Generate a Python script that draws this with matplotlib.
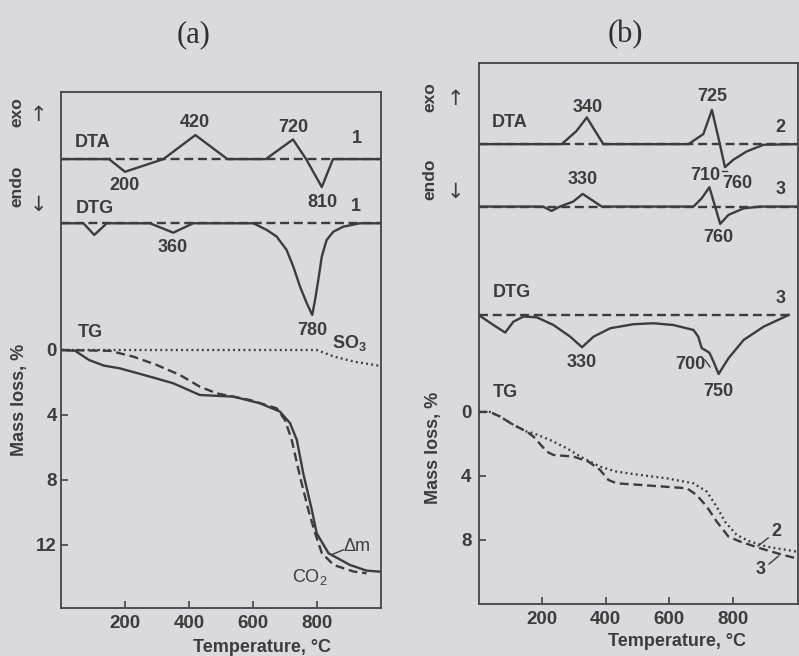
import matplotlib
matplotlib.use("Agg")
import matplotlib.pyplot as plt
import numpy as np

W, H = 799, 656
BG = '#dadade'
INK = '#3c3c3c'
FAM = ['Liberation Sans', 'DejaVu Sans']
plt.rcParams['font.family'] = FAM
plt.rcParams['mathtext.fontset'] = 'custom'
plt.rcParams['mathtext.rm'] = 'Liberation Sans'
plt.rcParams['mathtext.bf'] = 'Liberation Sans:bold'
plt.rcParams['mathtext.default'] = 'rm'

# ---------------- Panel (a) data ----------------
# DTA curve 1 (deflection, exo positive)
a_dta_T = [0, 150, 200, 320, 420, 520, 640, 725, 766, 815, 850, 1000]
a_dta_v = [0, 0, -0.78, 0, 1.48, 0, 0, 1.21, 0, -1.72, 0, 0]
# DTG curve 1
a_dtg_T = [0, 70, 104, 143, 278, 351, 413, 601, 643, 674, 705, 726, 747, 768, 785,
           794, 804, 815, 830, 851, 882, 934, 1000]
a_dtg_v = [0, 0, -0.72, 0, 0, -0.58, 0, 0, -0.41, -0.82, -1.64, -2.67, -3.90, -4.92, -5.64,
           -4.72, -3.49, -2.05, -1.03, -0.52, -0.21, 0, 0]
# TG: total mass loss (solid)
a_tg_T = [2, 44, 88, 134, 184, 278, 351, 434, 539, 622, 684, 716, 737, 757, 784, 799,
          836, 903, 955, 994]
a_tg_m = [0, 0.05, 0.62, 0.96, 1.13, 1.64, 2.05, 2.77, 2.87, 3.28, 3.79, 4.51, 5.54,
          7.59, 9.85, 11.28, 12.51, 13.23, 13.58, 13.64]
# TG: CO2 (dashed)
a_co2_T = [2, 153, 226, 299, 372, 434, 487, 591, 674, 700, 721, 747, 773, 794, 815,
           852, 915, 955]
a_co2_m = [0, 0.05, 0.41, 0.92, 1.54, 2.26, 2.67, 3.08, 3.59, 4.31, 5.54, 7.8, 9.85,
           11.27, 12.5, 13.23, 13.64, 13.74]
# TG: SO3 (dotted)
a_so3_T = [2, 799, 854, 917, 994]
a_so3_m = [0, 0, 0.41, 0.72, 0.97]

# ---------------- Panel (b) data ----------------
b_dta2_T = [0, 262, 309, 341, 367, 393, 661, 708, 735, 760, 776, 802, 844, 897, 1005]
b_dta2_v = [0, 0, 0.83, 1.67, 0.83, 0, 0, 0.63, 2.14, 0, -1.44, -0.98, -0.46, -0.04, 0]
b_dta3_T = [0, 203, 230, 256, 298, 328, 388, 677, 703, 727, 745, 761, 787, 835, 887, 1005]
b_dta3_v = [0, 0, -0.27, 0, 0.31, 0.79, 0, 0, 0.52, 1.21, 0, -1.08, -0.52, -0.11, 0, 0]
b_dtg3_T = [0, 47, 84, 110, 142, 184, 236, 289, 326, 362, 415, 488, 551, 614, 677, 692,
            703, 713, 727, 740, 756, 787, 835, 898, 977]
b_dtg3_v = [0, -0.63, -1.1, -0.42, -0.1, -0.15, -0.63, -1.36, -2.02, -1.36, -0.83, -0.58,
            -0.52, -0.63, -0.94, -1.36, -2.08, -2.19, -2.36, -2.92, -3.69, -2.71, -1.56,
            -0.73, 0]
b_tg2_T = [0, 36, 68, 110, 152, 173, 225, 278, 331, 383, 435, 509, 593, 677, 719, 750,
           776, 813, 855, 908, 1002]
b_tg2_m = [0, 0, 0.29, 0.81, 1.23, 1.33, 1.75, 2.27, 2.9, 3.42, 3.73, 3.94, 4.15, 4.46,
           4.98, 5.92, 6.85, 7.69, 8.1, 8.42, 8.73]
b_tg3_T = [0, 36, 68, 110, 152, 173, 215, 236, 299, 346, 383, 409, 435, 509, 656, 687,
           719, 750, 787, 824, 887, 960, 1002]
b_tg3_m = [0, 0, 0.29, 0.81, 1.23, 1.54, 2.48, 2.69, 2.79, 3.1, 3.63, 4.25, 4.46, 4.56,
           4.77, 5.19, 5.92, 6.85, 7.79, 8.1, 8.52, 8.94, 9.15]

x_ticks = [200, 400, 600, 800]
a_y_ticks = [0, 4, 8, 12]
b_y_ticks = [0, 4, 8]

# baselines (offsets on the mass-loss scale)
A_DTA0, A_DTG0 = -11.75, -7.8
B_DTA2, B_DTA3, B_DTG0 = -16.73, -12.83, -6.06

fig = plt.figure(figsize=(W / 100, H / 100), dpi=100, facecolor=BG)


def px_axes(l, t, r, b):
    return fig.add_axes([l / W, 1 - b / H, (r - l) / W, (b - t) / H])


LW = 1.7
DASH = (0, (3.8, 2.0))
DOT = (0, (0.8, 1.4))
TXT = dict(color=INK, fontsize=13, fontweight='bold', ha='center', va='center')


def style(ax, yt, pad_y):
    ax.set_facecolor(BG)
    for s in ax.spines.values():
        s.set_color('#444444')
        s.set_linewidth(1.3)
    ax.set_xticks(x_ticks)
    ax.set_yticks(yt)
    ax.tick_params(direction='in', length=5, width=1.2, color='#444444',
                   labelsize=13.5, labelcolor=INK)
    ax.tick_params(axis='y', pad=pad_y)
    ax.tick_params(axis='x', pad=5)
    for lab in ax.get_xticklabels() + ax.get_yticklabels():
        lab.set_fontweight('bold')


# ---------------- Panel (a) ----------------
axa = px_axes(61, 92, 381, 608)
axa.set_xlim(0, 1000)
axa.set_ylim(15.88, -15.88)
style(axa, a_y_ticks, 3)

axa.axhline(A_DTA0, color=INK, lw=LW, ls=DASH)
axa.plot(a_dta_T, A_DTA0 - np.array(a_dta_v), color=INK, lw=LW)
axa.axhline(A_DTG0, color=INK, lw=LW, ls=DASH)
axa.plot(a_dtg_T, A_DTG0 - np.array(a_dtg_v), color=INK, lw=LW)
axa.plot(a_so3_T, a_so3_m, color=INK, lw=1.7, ls=DOT)
axa.plot(a_co2_T, a_co2_m, color=INK, lw=LW, ls=DASH)
axa.plot(a_tg_T, a_tg_m, color=INK, lw=LW)

for s, x, y in [("DTA", 100, -12.8), ("420", 419, -14.0), ("720", 725, -13.7),
                ("1", 925, -13.0), ("200", 200, -10.15), ("810", 816, -9.1),
                ("1", 922, -8.86), ("DTG", 106, -8.74), ("360", 350, -6.28),
                ("780", 784, -1.23), (r"SO$_\mathbf{3}$", 900, -0.45), ("TG", 91, -1.05)]:
    axa.text(x, y, s, **TXT)
axa.text(925, 12.1, "Δm", color=INK, fontsize=13, ha='center', va='center')
axa.text(778, 13.97, r"CO$_2$", color=INK, fontsize=13, ha='center', va='center')
axa.plot([846, 882], [12.6, 12.3], color=INK, lw=1.0)

# ---------------- Panel (b) ----------------
axb = px_axes(478.5, 63, 798, 604)
axb.set_xlim(0, 1006)
axb.set_ylim(12.0, -21.8)
style(axb, b_y_ticks, 5)

axb.axhline(B_DTA2, color=INK, lw=LW, ls=DASH)
axb.plot(b_dta2_T, B_DTA2 - np.array(b_dta2_v), color=INK, lw=LW)
axb.axhline(B_DTA3, color=INK, lw=LW, ls=DASH)
axb.plot(b_dta3_T, B_DTA3 - np.array(b_dta3_v), color=INK, lw=LW)
axb.plot([0, b_dtg3_T[-1]], [B_DTG0, B_DTG0], color=INK, lw=LW, ls=DASH)
axb.plot(b_dtg3_T, B_DTG0 - np.array(b_dtg3_v), color=INK, lw=LW)
axb.plot(b_tg2_T, b_tg2_m, color=INK, lw=1.7, ls=DOT)
axb.plot(b_tg3_T, b_tg3_m, color=INK, lw=LW, ls=DASH)

for s, x, y in [("DTA", 99, -18.06), ("340", 344, -19.0), ("725", 735, -19.7),
                ("2", 950, -17.75), ("330", 328, -14.5), ("710", 713, -14.75),
                ("760", 814, -14.25), ("3", 950, -13.9), ("760", 755, -10.9),
                ("DTG", 105, -7.44), ("3", 950, -7.1), ("330", 325, -3.06),
                ("700", 666, -2.94), ("750", 754, -1.25), ("TG", 83, -1.19),
                ("2", 939, 7.48), ("3", 887, 9.875)]:
    axb.text(x, y, s, **TXT)
axb.plot([767, 783], [-15.06, -15.06], color=INK, lw=1.0)
axb.plot([713, 729], [-3.25, -2.81], color=INK, lw=1.0)
axb.plot([880, 912], [8.375, 7.875], color=INK, lw=1.0)
axb.plot([915, 945], [9.5, 9.0], color=INK, lw=1.0)

# ---------------- figure-level labels ----------------
def ftext(x, y, s, **kw):
    fig.text(x / W, 1 - y / H, s, **kw)


LAB = dict(color=INK, fontsize=13, fontweight='bold', ha='center', va='center')
ftext(20, 400, "Mass loss, %", rotation=90, **LAB)
ftext(433, 448, "Mass loss, %", rotation=90, **LAB)
ftext(262, 647, "Temperature, °C", **LAB)
ftext(677, 642, "Temperature, °C", **LAB)
EX = dict(color=INK, fontsize=12.5, fontweight='bold', ha='center', va='center')
ftext(17, 112, "exo", rotation=90, **EX)
ftext(17, 186, "endo", rotation=90, **EX)
ftext(430, 97, "exo", rotation=90, **EX)
ftext(430, 179, "endo", rotation=90, **EX)
ARR = dict(color=INK, fontsize=15, ha='center', va='center', family=['DejaVu Sans'])
ftext(38, 115, "↑", **ARR)
ftext(38, 205, "↓", **ARR)
ftext(455, 99, "↑", **ARR)
ftext(455, 192, "↓", **ARR)
PL = dict(color='#2e2e2e', fontsize=22, ha='center', va='center', family=['Liberation Serif'])
ftext(194, 35, "(a)", **PL)
ftext(625, 35, "(b)", **PL)

fig.savefig("out.png", dpi=100, facecolor=BG)
